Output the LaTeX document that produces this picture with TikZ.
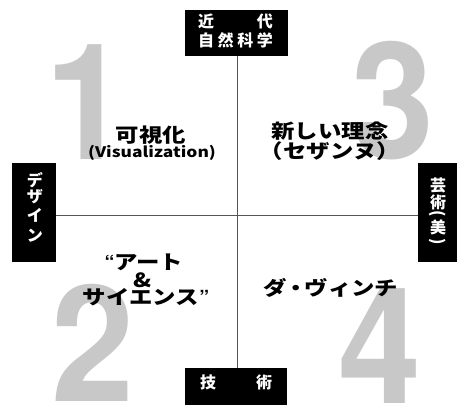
\documentclass[tikz,border=0pt]{standalone}
\usepackage{fontspec}
\newfontfamily\jp{Noto Sans CJK JP}
\newfontfamily\jpw{Noto Sans CJK JP}[FakeStretch=1.2]
\newfontfamily\heros{TeX Gyre Heros}
\newfontfamily\herosn{TeX Gyre Heros}[FakeStretch=0.92]
\definecolor{numgray}{HTML}{C8C8C8}
\definecolor{axisgray}{HTML}{555555}
\begin{document}
\begin{tikzpicture}[x=1pt,y=-1pt,
  labelbox/.style={fill=black, draw=none},
  digit/.style={text=numgray, font=\herosn\bfseries\fontsize{162}{162}\selectfont, inner sep=0, anchor=base west},
  quad/.style={font=\jpw\bfseries\fontsize{19.5}{21}\selectfont, inner sep=0, align=center},
  boxtext/.style={text=white, font=\jp\bfseries\fontsize{16}{19}\selectfont, inner sep=0, align=center},
  sidetext/.style={text=white, font=\jp\bfseries\fontsize{16}{18}\selectfont, inner sep=0},
  axis/.style={draw=axisgray, line width=0.8pt}]
\useasboundingbox[fill=white] (0,0) rectangle (461,406);
% big digits
\node[digit] (d1) at (45,160) {1};
\node[digit] (d3) at (351,159) {3};
\node[digit] (d2) at (51,402) {2};
\node[digit] (d4) at (338,403) {4};
% label boxes
\path[labelbox] (185,10) rectangle (288,56);
\coordinate (tb) at (237,56);
\path[labelbox] (185,368) rectangle (287,405);
\coordinate (bb) at (237,368);
\path[labelbox] (12,163) rectangle (56,262);
\coordinate (lb) at (56,215.5);
\path[labelbox] (418,163) rectangle (457,262);
\coordinate (rb) at (418,215.5);
% axes
\draw[axis] (tb) -- (bb);
\draw[axis] (lb) -- (rb);
% box texts
\node[boxtext] (top1) at (235.5,21) {\makebox[75pt]{近\hfill{}代}};
\node[boxtext] (top2) at (235.5,40) {\makebox[75pt]{自\hfill{}然\hfill{}科\hfill{}学}};
\node[boxtext] (bot) at (236,382) {\makebox[72pt]{技\hfill{}術}};
\node[sidetext] (l1) at (35,180) {デ};
\node[sidetext] (l2) at (35,197) {ザ};
\node[sidetext] (l3) at (35,215) {イ};
\node[sidetext] (l4) at (35,236) {ン};
\node[sidetext] (r1) at (438,185) {芸};
\node[sidetext] (r2) at (438,202) {術};
\node[sidetext] (r3) at (438,214) {\rotatebox{-90}{(}};
\node[sidetext] (r4) at (438,227) {美};
\node[sidetext] (r5) at (438,242) {\rotatebox{-90}{)}};
% quadrant texts
\node[quad] (q1a) at (151,135) {可視化};
\node[quad, font=\jpw\bfseries\fontsize{14.5}{16}\selectfont] (q1b) at (152,153) {(Visualization)};
\node[quad] (q3a) at (330,131) {新しい理念};
\node[quad] (q3b) at (330,151) {（セザンヌ）};
\node[quad] (q2a) at (144,262) {{\heros\bfseries “}アート};
\node[quad] (q2b) at (143,280) {\&};
\node[quad] (q2c) at (146,297) {サイエンス{\heros\bfseries ”}};
\node[quad] (q4) at (331,288) {ダ\kern-3pt・\kern-3pt ヴィンチ};
\end{tikzpicture}
\end{document}
